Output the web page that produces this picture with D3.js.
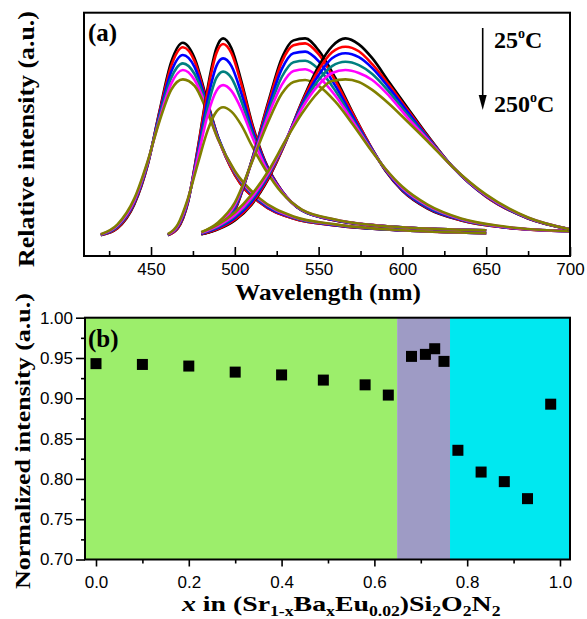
<!doctype html>
<html>
<head>
<meta charset="utf-8">
<style>
  body { margin: 0; background: #fff; }
  svg { display: block; }
</style>
</head>
<body>
<script src="https://cdn.jsdelivr.net/npm/d3@7"></script>
<script>

// ---- panel (a): emission spectra, 6 temperatures per sample (25 -> 250 C)
var tempColors = ["#000000", "#ff0000", "#0000ff", "#008080", "#ff00ff", "#808000"];

var wl1 = [420, 430, 440, 448, 455, 462, 469, 476, 483, 490, 500, 515, 535, 560, 600, 650];
var set1 = [
  [0.005, 0.04, 0.16, 0.36, 0.63, 0.88, 0.978, 0.90, 0.70, 0.50, 0.31, 0.17, 0.09, 0.055, 0.03, 0.015],
  [0.006, 0.042, 0.165, 0.362, 0.625, 0.86, 0.955, 0.885, 0.69, 0.50, 0.31, 0.17, 0.09, 0.055, 0.03, 0.015],
  [0.007, 0.047, 0.17, 0.367, 0.615, 0.83, 0.916, 0.855, 0.68, 0.50, 0.32, 0.175, 0.093, 0.056, 0.03, 0.015],
  [0.008, 0.05, 0.175, 0.37, 0.605, 0.80, 0.874, 0.82, 0.67, 0.495, 0.32, 0.18, 0.095, 0.058, 0.03, 0.015],
  [0.009, 0.055, 0.18, 0.375, 0.59, 0.77, 0.840, 0.79, 0.655, 0.49, 0.325, 0.185, 0.097, 0.059, 0.03, 0.015],
  [0.01, 0.06, 0.19, 0.38, 0.58, 0.74, 0.793, 0.76, 0.64, 0.49, 0.33, 0.19, 0.10, 0.06, 0.03, 0.015]
];

var wl2 = [460, 466, 472, 478, 484, 489, 493, 498, 504, 510, 518, 528, 540, 560, 600, 650];
var set2 = [
  [0.005, 0.04, 0.17, 0.45, 0.76, 0.95, 1.0, 0.95, 0.78, 0.58, 0.38, 0.23, 0.13, 0.08, 0.045, 0.03],
  [0.006, 0.042, 0.172, 0.445, 0.745, 0.925, 0.972, 0.925, 0.765, 0.57, 0.375, 0.23, 0.13, 0.08, 0.045, 0.03],
  [0.007, 0.047, 0.176, 0.43, 0.70, 0.86, 0.899, 0.86, 0.72, 0.55, 0.37, 0.228, 0.131, 0.081, 0.045, 0.03],
  [0.008, 0.05, 0.18, 0.415, 0.66, 0.80, 0.832, 0.80, 0.68, 0.53, 0.36, 0.226, 0.132, 0.082, 0.045, 0.03],
  [0.009, 0.054, 0.184, 0.40, 0.62, 0.735, 0.764, 0.735, 0.64, 0.51, 0.355, 0.224, 0.133, 0.083, 0.045, 0.03],
  [0.01, 0.06, 0.19, 0.37, 0.54, 0.63, 0.652, 0.63, 0.56, 0.46, 0.34, 0.22, 0.135, 0.085, 0.045, 0.03]
];

var wl3 = [480, 490, 500, 510, 520, 528, 535, 542, 550, 560, 570, 580, 590, 600, 615, 635, 660, 700];
var set3 = [
  [0.01, 0.04, 0.13, 0.38, 0.68, 0.90, 0.99, 1.0, 0.94, 0.80, 0.63, 0.47, 0.33, 0.23, 0.14, 0.08, 0.045, 0.025],
  [0.011, 0.043, 0.135, 0.38, 0.67, 0.88, 0.965, 0.975, 0.92, 0.785, 0.625, 0.47, 0.332, 0.232, 0.142, 0.081, 0.045, 0.025],
  [0.013, 0.048, 0.142, 0.377, 0.65, 0.845, 0.925, 0.933, 0.885, 0.76, 0.61, 0.465, 0.334, 0.235, 0.145, 0.083, 0.046, 0.025],
  [0.015, 0.055, 0.15, 0.375, 0.63, 0.805, 0.88, 0.887, 0.845, 0.735, 0.595, 0.46, 0.336, 0.24, 0.15, 0.085, 0.047, 0.025],
  [0.017, 0.06, 0.158, 0.372, 0.61, 0.765, 0.835, 0.844, 0.805, 0.71, 0.585, 0.455, 0.338, 0.244, 0.155, 0.087, 0.048, 0.025],
  [0.02, 0.07, 0.17, 0.37, 0.58, 0.72, 0.78, 0.79, 0.76, 0.68, 0.57, 0.45, 0.34, 0.25, 0.16, 0.09, 0.05, 0.025]
];

var wl4 = [480, 490, 500, 510, 520, 530, 540, 550, 558, 566, 574, 582, 592, 603, 615, 630, 650, 675, 700];
var set4 = [
  [0.01, 0.035, 0.08, 0.16, 0.29, 0.47, 0.68, 0.86, 0.96, 1.0, 0.97, 0.90, 0.78, 0.65, 0.51, 0.35, 0.20, 0.09, 0.035],
  [0.011, 0.038, 0.085, 0.165, 0.295, 0.47, 0.675, 0.84, 0.93, 0.958, 0.935, 0.87, 0.765, 0.64, 0.505, 0.35, 0.20, 0.09, 0.035],
  [0.013, 0.043, 0.092, 0.175, 0.305, 0.475, 0.665, 0.815, 0.90, 0.925, 0.905, 0.85, 0.75, 0.63, 0.50, 0.35, 0.202, 0.091, 0.035],
  [0.015, 0.048, 0.10, 0.185, 0.31, 0.475, 0.655, 0.79, 0.86, 0.882, 0.865, 0.82, 0.73, 0.615, 0.495, 0.35, 0.204, 0.092, 0.035],
  [0.017, 0.053, 0.107, 0.195, 0.318, 0.478, 0.645, 0.765, 0.825, 0.84, 0.825, 0.79, 0.71, 0.60, 0.49, 0.35, 0.206, 0.093, 0.035],
  [0.02, 0.06, 0.12, 0.21, 0.33, 0.48, 0.62, 0.73, 0.785, 0.793, 0.78, 0.74, 0.67, 0.58, 0.48, 0.35, 0.21, 0.095, 0.035]
];

var ticksA = [450, 500, 550, 600, 650, 700];
var minorA = [425, 475, 525, 575, 625, 675];

// ---- panel (b): normalized intensity vs composition x
var xComp = [0.0, 0.1, 0.2, 0.3, 0.4, 0.49, 0.58, 0.63, 0.68, 0.71, 0.73, 0.75, 0.78, 0.83, 0.88, 0.93, 0.98];
var yNorm = [0.943, 0.942, 0.940, 0.9325, 0.929, 0.9226, 0.9167, 0.904, 0.952, 0.9545, 0.9615, 0.9458, 0.8355, 0.8085, 0.7966, 0.7755, 0.8927];
var phaseBreaks = [0.649, 0.763];
var phaseColors = ["#9cee6b", "#9e9bc5", "#00e8f0"];

var ticksBx = [0, 0.2, 0.4, 0.6, 0.8, 1.0];
var minorBx = [0.1, 0.3, 0.5, 0.7, 0.9];
var ticksBy = [0.70, 0.75, 0.80, 0.85, 0.90, 0.95, 1.00];
var minorBy = [0.725, 0.775, 0.825, 0.875, 0.925, 0.975];

var serif = "'Liberation Serif', 'Times New Roman', serif";
var sans = "'Liberation Sans', Arial, sans-serif";

var svg = d3.select("body").append("svg")
    .attr("width", 587)
    .attr("height", 619);

// stretch a title along its own direction to the length it has in the figure
function fit(t, len, pos) {
  var w = t.node().getBBox().width;
  t.attr("transform", pos + " scale(" + (len / w) + ",1)");
}

function bold(size) {
  return svg.append("text")
      .style("font-family", serif)
      .style("font-weight", "bold")
      .style("font-size", size + "px");
}

// ================= panel (a)
var xa = d3.scaleLinear().domain([410, 700]).range([84, 570]);
var ya = d3.scaleLinear().domain([-0.1, 1.13]).range([256, 12.7]);

var sets = [[wl1, set1], [wl2, set2], [wl3, set3], [wl4, set4]];
var lineA = d3.line()
    .x(function(d) { return xa(d[0]); })
    .y(function(d) { return ya(d[1]); })
    .curve(d3.curveMonotoneX);

var ga = svg.append("g");
sets.forEach(function(s) {
  s[1].forEach(function(vals, i) {
    var pts = s[0].map(function(w, j) { return [w, vals[j]]; });
    ga.append("path")
        .datum(pts)
        .attr("fill", "none")
        .attr("stroke", tempColors[i])
        .attr("stroke-width", 2.6)
        .attr("stroke-linejoin", "round")
        .attr("d", lineA);
  });
});

svg.append("rect")
    .attr("x", 84).attr("y", 12.7)
    .attr("width", 570 - 84).attr("height", 256 - 12.7)
    .attr("fill", "none").attr("stroke", "#000").attr("stroke-width", 2);

svg.append("g")
    .attr("transform", "translate(0,256)")
    .call(d3.axisBottom(xa).tickValues(ticksA).tickSize(-9).tickPadding(7).tickFormat(d3.format("d")))
  .select(".domain").remove();
svg.append("g")
    .attr("transform", "translate(0,256)")
    .call(d3.axisBottom(xa).tickValues(minorA).tickSize(-5).tickFormat(""))
  .select(".domain").remove();

bold(25).attr("x", 88).attr("y", 41).text("(a)");

var wlab = bold(23).attr("text-anchor", "middle").text("Wavelength (nm)");
fit(wlab, 186, "translate(328,300)");

var rlab = bold(23).attr("text-anchor", "middle").text("Relative intensity (a.u.)");
fit(rlab, 256, "translate(34,139) rotate(-90)");

// temperature arrow
svg.append("line")
    .attr("x1", 482.7).attr("x2", 482.7).attr("y1", 28).attr("y2", 98)
    .attr("stroke", "#000").attr("stroke-width", 1.6);
svg.append("path")
    .attr("d", "M478.7,95L486.7,95L482.7,110Z")
    .attr("fill", "#000");

var t1 = bold(24).attr("x", 494).attr("y", 48);
t1.append("tspan").text("25");
t1.append("tspan").attr("dy", -10).style("font-size", "14px").text("o");
t1.append("tspan").attr("dy", 10).text("C");

var t2 = bold(24).attr("x", 494).attr("y", 112);
t2.append("tspan").text("250");
t2.append("tspan").attr("dy", -10).style("font-size", "14px").text("o");
t2.append("tspan").attr("dy", 10).text("C");

// ================= panel (b)
var xb = d3.scaleLinear().domain([-0.0237, 1.0216]).range([85, 570]);
var yb = d3.scaleLinear().domain([0.70, 1.00]).range([559.5, 317.7]);

var edges = [xb.domain()[0]].concat(phaseBreaks, [xb.domain()[1]]);
svg.append("g").selectAll("rect")
    .data(phaseColors)
  .enter().append("rect")
    .attr("x", function(d, i) { return xb(edges[i]); })
    .attr("width", function(d, i) { return xb(edges[i + 1]) - xb(edges[i]); })
    .attr("y", yb(1.00))
    .attr("height", yb(0.70) - yb(1.00))
    .attr("fill", function(d) { return d; });

var sq = 11;
svg.append("g").selectAll("rect")
    .data(xComp)
  .enter().append("rect")
    .attr("x", function(d) { return xb(d) - sq / 2; })
    .attr("y", function(d, i) { return yb(yNorm[i]) - sq / 2; })
    .attr("width", sq).attr("height", sq)
    .attr("fill", "#000");

svg.append("rect")
    .attr("x", 85).attr("y", 317.7)
    .attr("width", 570 - 85).attr("height", 559.5 - 317.7)
    .attr("fill", "none").attr("stroke", "#000").attr("stroke-width", 2);

svg.append("g")
    .attr("transform", "translate(0,559.5)")
    .call(d3.axisBottom(xb).tickValues(ticksBx).tickSize(7).tickPadding(9).tickFormat(d3.format(".1f")))
  .select(".domain").remove();
svg.append("g")
    .attr("transform", "translate(0,559.5)")
    .call(d3.axisBottom(xb).tickValues(minorBx).tickSize(4).tickFormat(""))
  .select(".domain").remove();

svg.append("g")
    .attr("transform", "translate(85,0)")
    .call(d3.axisLeft(yb).tickValues(ticksBy).tickSize(9).tickPadding(3).tickFormat(d3.format(".2f")))
  .select(".domain").remove();
svg.append("g")
    .attr("transform", "translate(85,0)")
    .call(d3.axisLeft(yb).tickValues(minorBy).tickSize(4).tickFormat(""))
  .select(".domain").remove();

svg.selectAll(".tick line").attr("stroke", "#000").attr("stroke-width", 1.6);
svg.selectAll(".tick text")
    .attr("fill", "#000")
    .style("font-family", sans)
    .style("font-size", "17px");

bold(25).attr("x", 88).attr("y", 347).text("(b)");

var nlab = bold(22).attr("text-anchor", "middle").text("Normalized intensity (a.u.)");
fit(nlab, 296, "translate(30,441) rotate(-90)");

// x label with subscripts
var xl = bold(22);
var parts = [["x", "i"], [" in (Sr", "n"], ["1-x", "s"], ["Ba", "n"], ["x", "s"], ["Eu", "n"],
             ["0.02", "s"], [")Si", "n"], ["2", "s"], ["O", "n"], ["2", "s"], ["N", "n"], ["2", "s"]];
var down = false;
parts.forEach(function(p) {
  var ts = xl.append("tspan").text(p[0]);
  if (p[1] === "i") ts.style("font-style", "italic");
  if (p[1] === "s") {
    ts.attr("dy", 5).style("font-size", "14px");
    down = true;
  } else if (down) {
    ts.attr("dy", -5);
    down = false;
  }
});
fit(xl, 320, "translate(182,611)");

</script>
</body>
</html>
